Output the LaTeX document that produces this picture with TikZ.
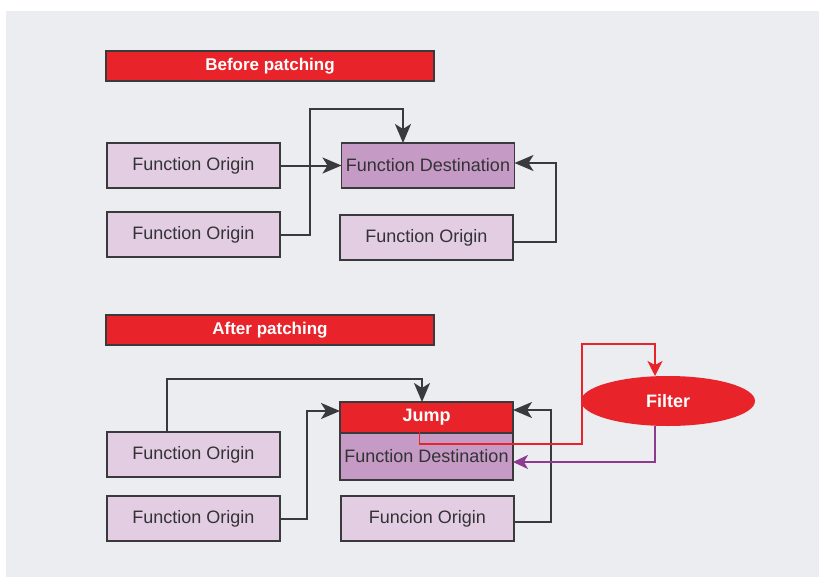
\documentclass[tikz,border=0pt]{standalone}
\usepackage{fontspec}
\setmainfont{Liberation Sans}
\usetikzlibrary{arrows.meta,shapes.geometric,calc}

\definecolor{bgray}{HTML}{ECEDF0}
\definecolor{patchred}{HTML}{E8232A}
\definecolor{boxlilac}{HTML}{E3CDE3}
\definecolor{boxmauve}{HTML}{C59AC5}
\definecolor{edgegray}{HTML}{3A3A3C}
\definecolor{txtgray}{HTML}{333336}
\definecolor{flowpurple}{HTML}{8E3A8E}

\tikzset{
  titlebar/.style={draw=edgegray, line width=1.4pt, fill=patchred, text=white,
    font=\fontsize{17}{20}\selectfont\bfseries, minimum width=328pt, minimum height=30pt,
    inner sep=0pt, outer sep=0pt},
  funcbox/.style={draw=edgegray, line width=1.4pt, fill=boxlilac, text=txtgray,
    font=\fontsize{18}{21}\selectfont, minimum width=173pt, minimum height=45pt,
    inner sep=0pt, outer sep=0pt},
  destbox/.style={funcbox, fill=boxmauve},
  jumpbox/.style={draw=edgegray, line width=1.4pt, fill=patchred, text=white,
    font=\fontsize{18}{21}\selectfont\bfseries, minimum width=173pt, minimum height=31pt,
    inner sep=0pt, outer sep=0pt},
  filterell/.style={ellipse, fill=patchred, text=white,
    font=\fontsize{18}{21}\selectfont\bfseries, minimum width=174pt, minimum height=50pt,
    inner sep=0pt, outer sep=0pt},
  conn/.style={draw=edgegray, line width=2pt,
    -{Stealth[length=19pt,width=16pt,inset=5pt]}},
  redflow/.style={draw=patchred, line width=1.4pt,
    -{Stealth[length=15pt,width=15pt,inset=4pt]}},
  purpleflow/.style={draw=flowpurple, line width=1.4pt,
    -{Stealth[length=15pt,width=14pt,inset=4pt]}},
}

\begin{document}
\begin{tikzpicture}[x=1pt,y=-1pt]
  \useasboundingbox (0,0) rectangle (819,578);
  \fill[bgray] (6,11) rectangle (819,577);

  % ---- before patching ----
  \node[titlebar] (tbefore) at (270,66) {Before patching};
  \node[funcbox] (a1) at (193.5,165.5) {Function Origin};
  \node[funcbox] (a2) at (193.5,234.5) {Function Origin};
  \node[destbox] (dest) at (428,165.5) {Function Destination};
  \node[funcbox] (a3) at (426.5,237.5) {Function Origin};

  \coordinate (k1) at (310,109);
  \draw[conn] (a1.east) -- (dest.west);
  \draw[conn] (a2.east) -| (k1) -| ([xshift=-25pt]dest.north);
  \draw[conn] ([yshift=-4.5pt]a3.east) -- ++(43,0) |- ([yshift=2.5pt]dest.east);

  % ---- after patching ----
  \node[titlebar] (tafter) at (270,330) {After patching};
  \node[funcbox] (b1) at (193.5,454.5) {Function Origin};
  \node[funcbox] (b2) at (193.5,518.5) {Function Origin};
  \node[destbox, minimum height=47pt] (dest2) at (426.5,456.5) {Function Destination};
  \node[jumpbox] (jump) at (426.5,417.5) {Jump};
  \node[funcbox] (b3) at (427.5,518.5) {Funcion Origin};
  \node[filterell] (filter) at (668,401) {Filter};

  \draw[conn] ([xshift=-26.5pt]b1.north) |- ([xshift=-4.5pt,yshift=23pt]jump.north)
    -- ([xshift=-4.5pt]jump.north);
  \draw[conn] (b2.east) -- ++(27,0) |- ([yshift=6.5pt]jump.west);
  \draw[conn] ([yshift=-3.5pt]b3.east) -- ++(37,0) |- ([yshift=7.5pt]jump.east);

  \coordinate (r1) at (582,444);
  \coordinate (r2) at (655,344);
  \draw[redflow] ([xshift=-7pt,yshift=6pt]jump.south) |- (r1) |- (r2)
    -- ([xshift=-13pt]filter.north);
  \draw[purpleflow] ([xshift=-13pt]filter.south) |- ([yshift=-5.5pt]dest2.east);
\end{tikzpicture}
\end{document}
